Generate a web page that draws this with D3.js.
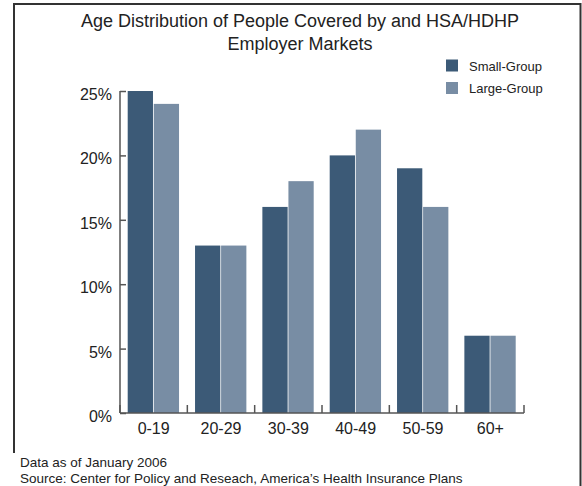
<!DOCTYPE html>
<html>
<head>
<meta charset="utf-8">
<script src="https://cdn.jsdelivr.net/npm/d3@7"></script>
<style>
  html, body { margin: 0; padding: 0; background: #fff; }
  svg { display: block; font-family: "Liberation Sans", Arial, sans-serif; }
</style>
</head>
<body>
<script>
// Age bands and share of covered people per market segment (percent)
const ageGroups = ["0-19", "20-29", "30-39", "40-49", "50-59", "60+"];
const seriesNames = ["Small-Group", "Large-Group"];
const smallGroup = [25, 13, 16, 20, 19, 6];
const largeGroup = [24, 13, 18, 22, 16, 6];
const yTicks = [0, 5, 10, 15, 20, 25];
const colors = ["#3c5a77", "#788da4"];

const W = 582, H = 486;
const svg = d3.select("body").append("svg").attr("width", W).attr("height", H);

// outer frame
const frame = svg.append("g").attr("stroke", "#333").attr("stroke-width", 2).attr("fill", "none");
frame.append("path").attr("d", `M14,453 V4 H580.5 V486`);

// title
svg.append("text").attr("x", 300).attr("y", 27).attr("text-anchor", "middle")
  .attr("font-size", 18).attr("fill", "#222").text("Age Distribution of People Covered by and HSA/HDHP");
svg.append("text").attr("x", 300).attr("y", 50).attr("text-anchor", "middle")
  .attr("font-size", 18).attr("fill", "#222").text("Employer Markets");

const x0 = d3.scaleBand().domain(ageGroups).range([120, 524]).paddingInner(0).paddingOuter(0);
const x1 = d3.scaleBand().domain(seriesNames).range([7.7, x0.bandwidth() - 8.3]).paddingInner(0.03);
const y = d3.scaleLinear().domain([0, 25]).range([413, 91]);

const rows = ageGroups.map((g, i) => ({ group: g, values: [smallGroup[i], largeGroup[i]] }));

// bars
svg.append("g").selectAll("g").data(rows).join("g")
  .attr("transform", d => `translate(${x0(d.group)},0)`)
  .selectAll("rect").data(d => d.values.map((v, j) => ({ key: seriesNames[j], v, j })))
  .join("rect")
  .attr("x", d => x1(d.key))
  .attr("width", x1.bandwidth())
  .attr("y", d => y(d.v))
  .attr("height", d => y(0) - y(d.v))
  .attr("fill", d => colors[d.j]);

// y axis with inward ticks
const yAxis = d3.axisLeft(y).tickValues(yTicks).tickSize(-6).tickPadding(8)
  .tickFormat(d => d + "%");
const gy = svg.append("g").attr("transform", "translate(120,0)").call(yAxis);
gy.select(".domain").attr("stroke", "#555").attr("stroke-width", 1.5).attr("d", `M0,${y(25)}V${y(0)}`);
gy.selectAll(".tick line").attr("stroke", "#555").attr("stroke-width", 1.5);
gy.selectAll(".tick text").attr("font-size", 16).attr("fill", "#222")
  .attr("font-family", "Liberation Sans, Arial, sans-serif").attr("dy", "0.53em");

// x axis: baseline with upward ticks at band edges
const gx = svg.append("g").attr("transform", `translate(0,${y(0)})`);
gx.append("line").attr("x1", 120).attr("x2", 524).attr("stroke", "#555").attr("stroke-width", 1.5);
const edges = ageGroups.map(g => x0(g)).concat([x0.range()[1]]);
gx.selectAll("line.edge").data(edges).join("line").attr("class", "edge")
  .attr("x1", d => d).attr("x2", d => d).attr("y1", 0).attr("y2", -8)
  .attr("stroke", "#555").attr("stroke-width", 1.5);
gx.selectAll("text").data(ageGroups).join("text")
  .attr("x", d => x0(d) + x0.bandwidth() / 2).attr("y", 21)
  .attr("text-anchor", "middle").attr("font-size", 16).attr("fill", "#222").text(d => d);

// legend
const lg = svg.append("g").selectAll("g").data(seriesNames).join("g")
  .attr("transform", (d, i) => `translate(446,${59.5 + i * 22.5})`);
lg.append("rect").attr("width", 12).attr("height", 12).attr("fill", (d, i) => colors[i]);
lg.append("text").attr("x", 23).attr("y", 11).attr("font-size", 13).attr("fill", "#222").text(d => d);

// footnotes
svg.append("text").attr("x", 20).attr("y", 467).attr("font-size", 13.5).attr("fill", "#222")
  .text("Data as of January 2006");
svg.append("text").attr("x", 20).attr("y", 483).attr("font-size", 13.5).attr("fill", "#222")
  .text("Source: Center for Policy and Reseach, America\u2019s Health Insurance Plans");
</script>
</body>
</html>
